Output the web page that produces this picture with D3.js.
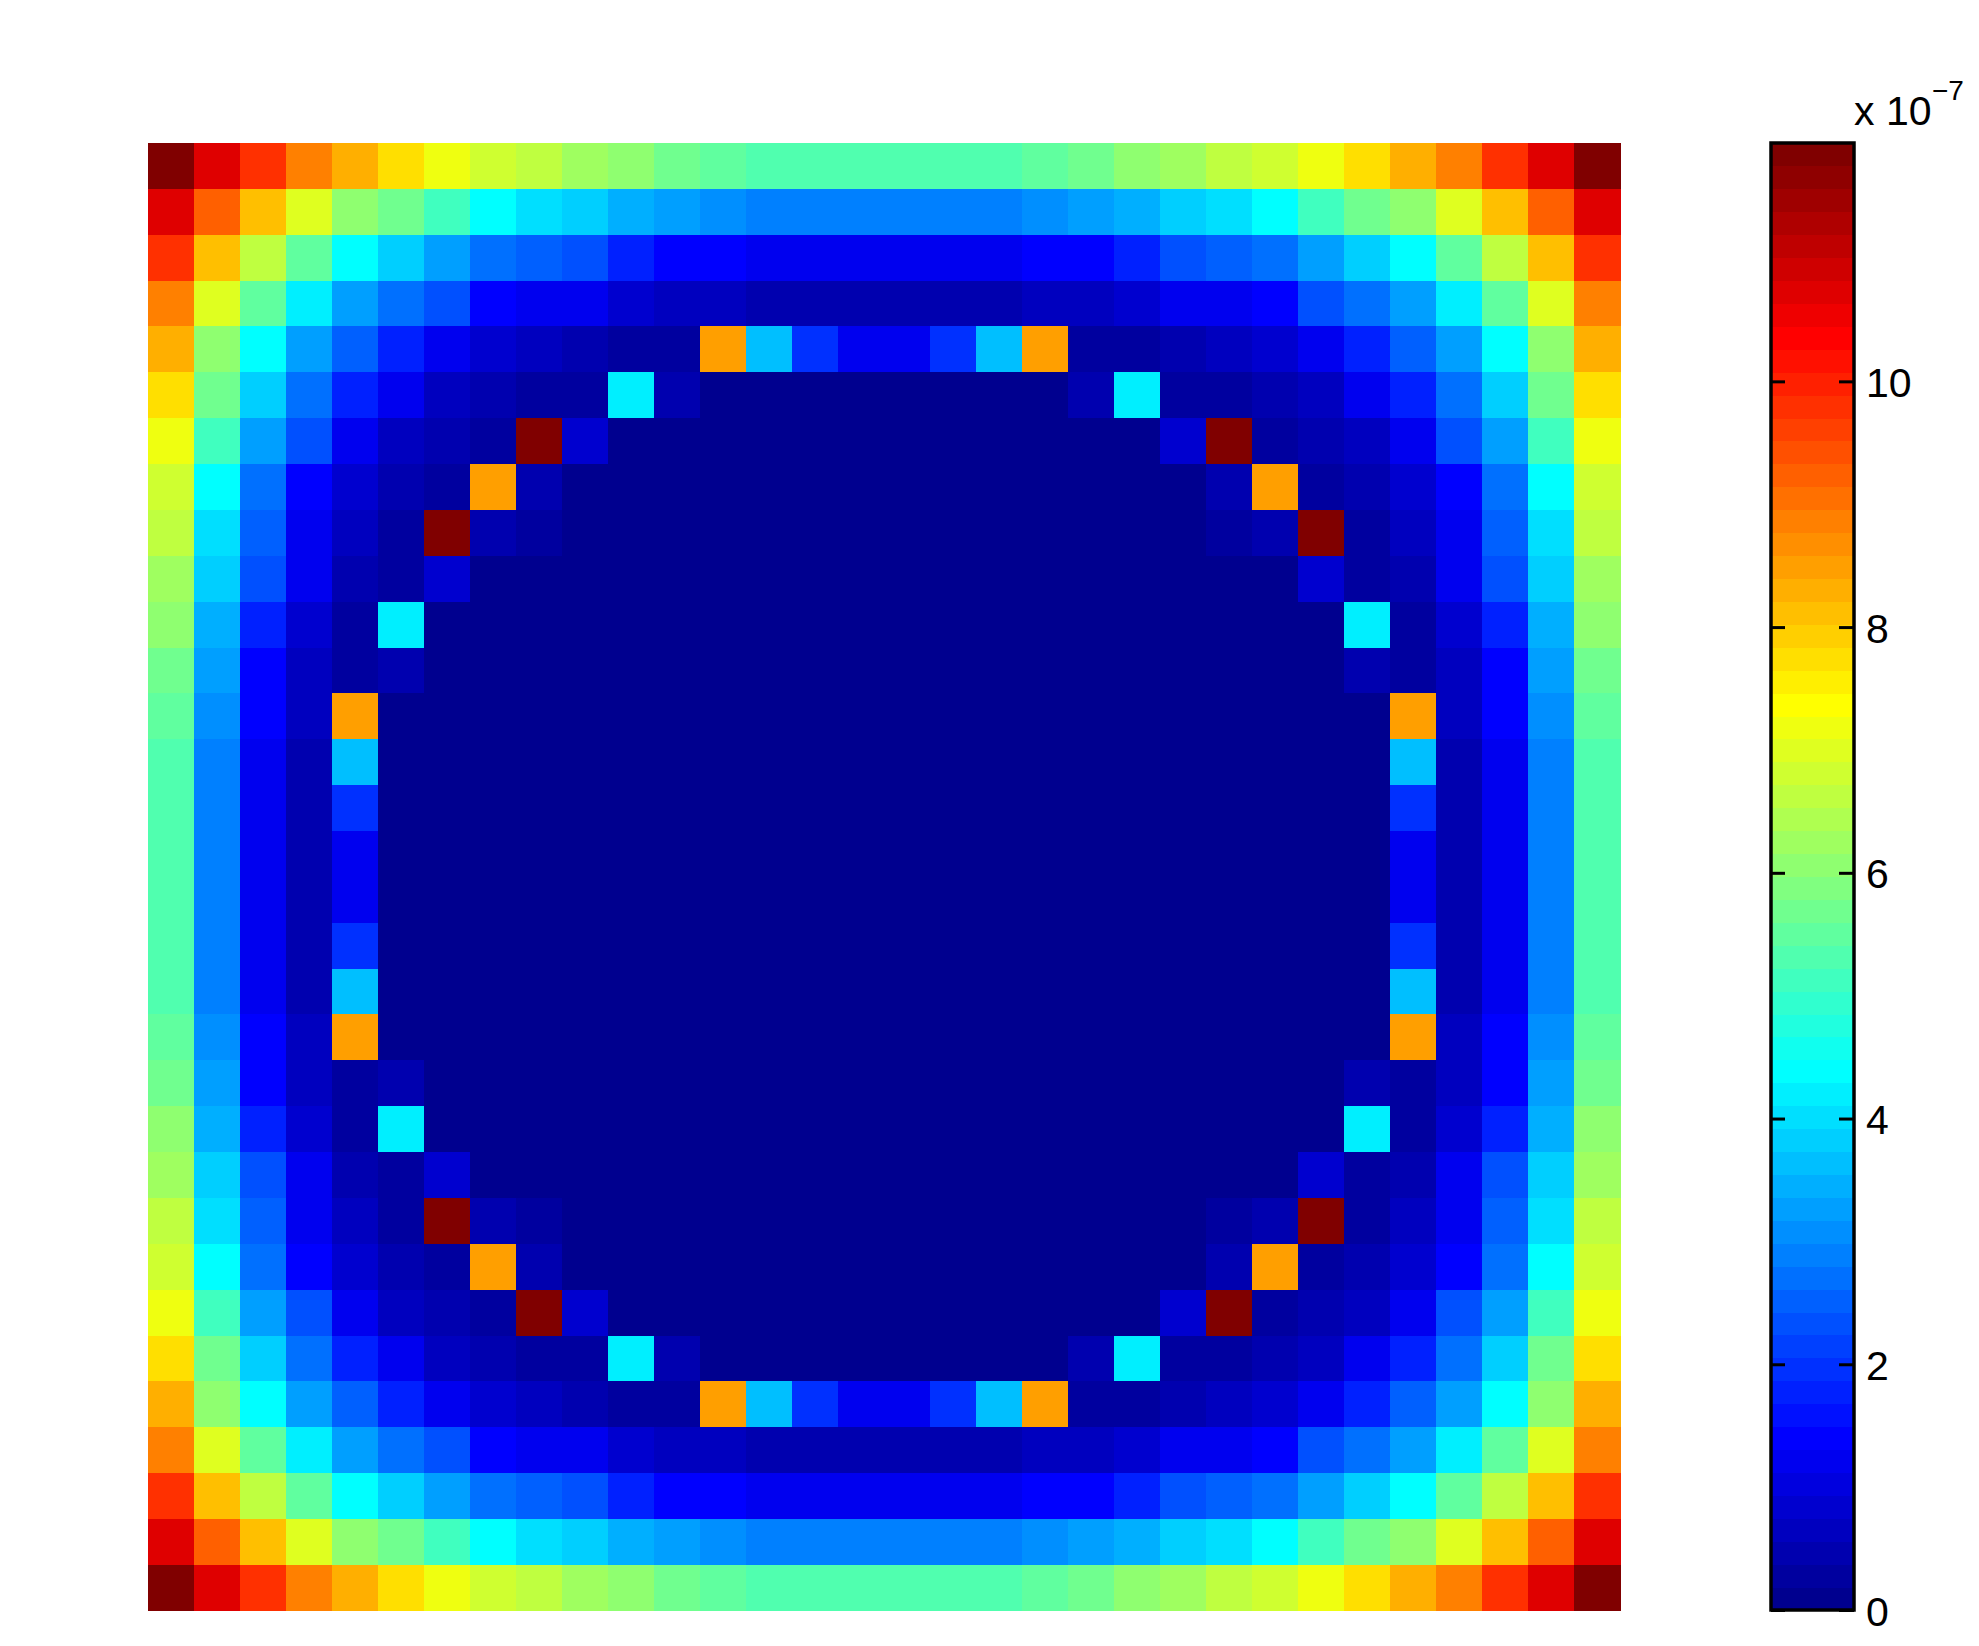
<!DOCTYPE html>
<html>
<head>
<meta charset="utf-8">
<title>Field magnitude</title>
<script src="https://cdn.jsdelivr.net/npm/d3@7/dist/d3.min.js"></script>
<style>
    html, body { margin: 0; padding: 0; background: #fff; }
    svg { display: block; }
    text { font-family: "Liberation Sans", Arial, sans-serif; fill: #000; }
</style>
</head>
<body>
<svg id="chart" width="1979" height="1646"></svg>
<script>
// cell values, in units of 1e-7, one list per image row
const fieldRows = [
[11.84,10.72,9.79,8.85,8.30,7.74,7.18,6.80,6.62,6.24,6.06,5.69,5.50,5.31,5.31,5.31,5.31,5.31,5.31,5.50,5.69,6.06,6.24,6.62,6.80,7.18,7.74,8.30,8.85,9.79,10.72,11.84],
[10.72,9.23,8.11,6.99,6.06,5.69,5.13,4.38,4.01,3.82,3.45,3.26,3.08,2.89,2.89,2.89,2.89,2.89,2.89,3.08,3.26,3.45,3.82,4.01,4.38,5.13,5.69,6.06,6.99,8.11,9.23,10.72],
[9.79,8.11,6.62,5.50,4.38,3.82,3.26,2.70,2.52,2.33,1.77,1.40,1.40,1.21,1.21,1.21,1.21,1.21,1.21,1.40,1.40,1.77,2.33,2.52,2.70,3.26,3.82,4.38,5.50,6.62,8.11,9.79],
[8.85,6.99,5.50,4.19,3.26,2.70,2.33,1.40,1.21,1.21,0.84,0.65,0.65,0.47,0.47,0.47,0.47,0.47,0.47,0.65,0.65,0.84,1.21,1.21,1.40,2.33,2.70,3.26,4.19,5.50,6.99,8.85],
[8.30,6.06,4.38,3.26,2.52,1.77,1.21,0.84,0.65,0.47,0.28,0.28,8.48,3.64,1.96,1.21,1.21,1.96,3.64,8.48,0.28,0.28,0.47,0.65,0.84,1.21,1.77,2.52,3.26,4.38,6.06,8.30],
[7.74,5.69,3.82,2.70,1.77,1.21,0.65,0.47,0.28,0.28,4.19,0.47,0.09,0.09,0.09,0.09,0.09,0.09,0.09,0.09,0.47,4.19,0.28,0.28,0.47,0.65,1.21,1.77,2.70,3.82,5.69,7.74],
[7.18,5.13,3.26,2.33,1.21,0.65,0.47,0.28,11.84,0.84,0.09,0.09,0.09,0.09,0.09,0.09,0.09,0.09,0.09,0.09,0.09,0.09,0.84,11.84,0.28,0.47,0.65,1.21,2.33,3.26,5.13,7.18],
[6.80,4.38,2.70,1.40,0.84,0.47,0.28,8.48,0.47,0.09,0.09,0.09,0.09,0.09,0.09,0.09,0.09,0.09,0.09,0.09,0.09,0.09,0.09,0.47,8.48,0.28,0.47,0.84,1.40,2.70,4.38,6.80],
[6.62,4.01,2.52,1.21,0.65,0.28,11.84,0.47,0.28,0.09,0.09,0.09,0.09,0.09,0.09,0.09,0.09,0.09,0.09,0.09,0.09,0.09,0.09,0.28,0.47,11.84,0.28,0.65,1.21,2.52,4.01,6.62],
[6.24,3.82,2.33,1.21,0.47,0.28,0.84,0.09,0.09,0.09,0.09,0.09,0.09,0.09,0.09,0.09,0.09,0.09,0.09,0.09,0.09,0.09,0.09,0.09,0.09,0.84,0.28,0.47,1.21,2.33,3.82,6.24],
[6.06,3.45,1.77,0.84,0.28,4.19,0.09,0.09,0.09,0.09,0.09,0.09,0.09,0.09,0.09,0.09,0.09,0.09,0.09,0.09,0.09,0.09,0.09,0.09,0.09,0.09,4.19,0.28,0.84,1.77,3.45,6.06],
[5.69,3.26,1.40,0.65,0.28,0.47,0.09,0.09,0.09,0.09,0.09,0.09,0.09,0.09,0.09,0.09,0.09,0.09,0.09,0.09,0.09,0.09,0.09,0.09,0.09,0.09,0.47,0.28,0.65,1.40,3.26,5.69],
[5.50,3.08,1.40,0.65,8.48,0.09,0.09,0.09,0.09,0.09,0.09,0.09,0.09,0.09,0.09,0.09,0.09,0.09,0.09,0.09,0.09,0.09,0.09,0.09,0.09,0.09,0.09,8.48,0.65,1.40,3.08,5.50],
[5.31,2.89,1.21,0.47,3.64,0.09,0.09,0.09,0.09,0.09,0.09,0.09,0.09,0.09,0.09,0.09,0.09,0.09,0.09,0.09,0.09,0.09,0.09,0.09,0.09,0.09,0.09,3.64,0.47,1.21,2.89,5.31],
[5.31,2.89,1.21,0.47,1.96,0.09,0.09,0.09,0.09,0.09,0.09,0.09,0.09,0.09,0.09,0.09,0.09,0.09,0.09,0.09,0.09,0.09,0.09,0.09,0.09,0.09,0.09,1.96,0.47,1.21,2.89,5.31],
[5.31,2.89,1.21,0.47,1.21,0.09,0.09,0.09,0.09,0.09,0.09,0.09,0.09,0.09,0.09,0.09,0.09,0.09,0.09,0.09,0.09,0.09,0.09,0.09,0.09,0.09,0.09,1.21,0.47,1.21,2.89,5.31],
[5.31,2.89,1.21,0.47,1.21,0.09,0.09,0.09,0.09,0.09,0.09,0.09,0.09,0.09,0.09,0.09,0.09,0.09,0.09,0.09,0.09,0.09,0.09,0.09,0.09,0.09,0.09,1.21,0.47,1.21,2.89,5.31],
[5.31,2.89,1.21,0.47,1.96,0.09,0.09,0.09,0.09,0.09,0.09,0.09,0.09,0.09,0.09,0.09,0.09,0.09,0.09,0.09,0.09,0.09,0.09,0.09,0.09,0.09,0.09,1.96,0.47,1.21,2.89,5.31],
[5.31,2.89,1.21,0.47,3.64,0.09,0.09,0.09,0.09,0.09,0.09,0.09,0.09,0.09,0.09,0.09,0.09,0.09,0.09,0.09,0.09,0.09,0.09,0.09,0.09,0.09,0.09,3.64,0.47,1.21,2.89,5.31],
[5.50,3.08,1.40,0.65,8.48,0.09,0.09,0.09,0.09,0.09,0.09,0.09,0.09,0.09,0.09,0.09,0.09,0.09,0.09,0.09,0.09,0.09,0.09,0.09,0.09,0.09,0.09,8.48,0.65,1.40,3.08,5.50],
[5.69,3.26,1.40,0.65,0.28,0.47,0.09,0.09,0.09,0.09,0.09,0.09,0.09,0.09,0.09,0.09,0.09,0.09,0.09,0.09,0.09,0.09,0.09,0.09,0.09,0.09,0.47,0.28,0.65,1.40,3.26,5.69],
[6.06,3.45,1.77,0.84,0.28,4.19,0.09,0.09,0.09,0.09,0.09,0.09,0.09,0.09,0.09,0.09,0.09,0.09,0.09,0.09,0.09,0.09,0.09,0.09,0.09,0.09,4.19,0.28,0.84,1.77,3.45,6.06],
[6.24,3.82,2.33,1.21,0.47,0.28,0.84,0.09,0.09,0.09,0.09,0.09,0.09,0.09,0.09,0.09,0.09,0.09,0.09,0.09,0.09,0.09,0.09,0.09,0.09,0.84,0.28,0.47,1.21,2.33,3.82,6.24],
[6.62,4.01,2.52,1.21,0.65,0.28,11.84,0.47,0.28,0.09,0.09,0.09,0.09,0.09,0.09,0.09,0.09,0.09,0.09,0.09,0.09,0.09,0.09,0.28,0.47,11.84,0.28,0.65,1.21,2.52,4.01,6.62],
[6.80,4.38,2.70,1.40,0.84,0.47,0.28,8.48,0.47,0.09,0.09,0.09,0.09,0.09,0.09,0.09,0.09,0.09,0.09,0.09,0.09,0.09,0.09,0.47,8.48,0.28,0.47,0.84,1.40,2.70,4.38,6.80],
[7.18,5.13,3.26,2.33,1.21,0.65,0.47,0.28,11.84,0.84,0.09,0.09,0.09,0.09,0.09,0.09,0.09,0.09,0.09,0.09,0.09,0.09,0.84,11.84,0.28,0.47,0.65,1.21,2.33,3.26,5.13,7.18],
[7.74,5.69,3.82,2.70,1.77,1.21,0.65,0.47,0.28,0.28,4.19,0.47,0.09,0.09,0.09,0.09,0.09,0.09,0.09,0.09,0.47,4.19,0.28,0.28,0.47,0.65,1.21,1.77,2.70,3.82,5.69,7.74],
[8.30,6.06,4.38,3.26,2.52,1.77,1.21,0.84,0.65,0.47,0.28,0.28,8.48,3.64,1.96,1.21,1.21,1.96,3.64,8.48,0.28,0.28,0.47,0.65,0.84,1.21,1.77,2.52,3.26,4.38,6.06,8.30],
[8.85,6.99,5.50,4.19,3.26,2.70,2.33,1.40,1.21,1.21,0.84,0.65,0.65,0.47,0.47,0.47,0.47,0.47,0.47,0.65,0.65,0.84,1.21,1.21,1.40,2.33,2.70,3.26,4.19,5.50,6.99,8.85],
[9.79,8.11,6.62,5.50,4.38,3.82,3.26,2.70,2.52,2.33,1.77,1.40,1.40,1.21,1.21,1.21,1.21,1.21,1.21,1.40,1.40,1.77,2.33,2.52,2.70,3.26,3.82,4.38,5.50,6.62,8.11,9.79],
[10.72,9.23,8.11,6.99,6.06,5.69,5.13,4.38,4.01,3.82,3.45,3.26,3.08,2.89,2.89,2.89,2.89,2.89,2.89,3.08,3.26,3.45,3.82,4.01,4.38,5.13,5.69,6.06,6.99,8.11,9.23,10.72],
[11.84,10.72,9.79,8.85,8.30,7.74,7.18,6.80,6.62,6.24,6.06,5.69,5.50,5.31,5.31,5.31,5.31,5.31,5.31,5.50,5.69,6.06,6.24,6.62,6.80,7.18,7.74,8.30,8.85,9.79,10.72,11.84]
];

const colorMax = 11.94;                    // top of the colour bar
const colorbarTicks = [0, 2, 4, 6, 8, 10];
const levelCount = 64;                     // matlab default colormap size

// matlab jet, 64 steps
function jetColor(i) {
    let t = (i + 1) / levelCount;
    let ch = v => Math.round(255 * Math.max(0, Math.min(1, v)));
    let r = ch(Math.min(4 * t - 1.5, -4 * t + 4.5));
    let g = ch(Math.min(4 * t - 0.5, -4 * t + 3.5));
    let b = ch(Math.min(4 * t + 0.5, -4 * t + 2.5));
    return d3.rgb(r, g, b).formatHex();
}
const jetColors = d3.range(levelCount).map(jetColor);

let svg = d3.select("#chart");

// scales
let scaleX = d3.scaleBand().domain(d3.range(fieldRows[0].length)).range([148, 1620]);
let scaleY = d3.scaleBand().domain(d3.range(fieldRows.length)).range([143, 1610.7]);
let scaleColor = d3.scaleQuantize().domain([0, colorMax]).range(jetColors);
let scaleBar = d3.scaleLinear().domain([0, colorMax]).range([1610, 143]);

// heat map cells
let cells = [];
fieldRows.forEach((row, r) => row.forEach((v, c) => cells.push({r: r, c: c, v: v})));

svg.append("g")
    .attr("shape-rendering", "crispEdges")
    .selectAll("rect")
    .data(cells).enter()
    .append("rect")
    .attr("x", d => scaleX(d.c))
    .attr("y", d => scaleY(d.r))
    .attr("width", scaleX.bandwidth() + 0.5)
    .attr("height", scaleY.bandwidth() + 0.5)
    .attr("fill", d => scaleColor(d.v));

// colour bar
const barLeft = 1771, barRight = 1854;
let levelStep = colorMax / levelCount;

svg.append("g")
    .attr("shape-rendering", "crispEdges")
    .selectAll("rect")
    .data(jetColors).enter()
    .append("rect")
    .attr("x", barLeft)
    .attr("width", barRight - barLeft)
    .attr("y", (d, i) => scaleBar((i + 1) * levelStep))
    .attr("height", (d, i) => scaleBar(i * levelStep) - scaleBar((i + 1) * levelStep) + 0.5)
    .attr("fill", d => d);

// inward ticks on both sides, labels on the right
let tickLeft = d3.axisRight(scaleBar).tickValues(colorbarTicks).tickSize(14).tickFormat("");
let tickRight = d3.axisLeft(scaleBar).tickValues(colorbarTicks).tickSize(15).tickFormat("");
let tickLabels = d3.axisRight(scaleBar).tickValues(colorbarTicks).tickSize(0).tickPadding(12).tickFormat(d3.format("d"));

let axes = [
    svg.append("g").attr("transform", "translate(" + barLeft + ",0)").call(tickLeft),
    svg.append("g").attr("transform", "translate(" + barRight + ",0)").call(tickRight),
    svg.append("g").attr("transform", "translate(" + barRight + ",2)").call(tickLabels)
];
axes.forEach(a => {
    a.select(".domain").remove();
    a.selectAll("line").attr("stroke", "#000").attr("stroke-width", 3);
    a.selectAll("text").attr("font-size", 41).attr("font-family", null);
});

svg.append("rect")
    .attr("x", barLeft)
    .attr("y", scaleBar(colorMax))
    .attr("width", barRight - barLeft)
    .attr("height", scaleBar(0) - scaleBar(colorMax))
    .attr("fill", "none")
    .attr("stroke", "#000")
    .attr("stroke-width", 3.5);

// scale factor above the bar
svg.append("text").attr("x", 1854).attr("y", 125).attr("font-size", 41).text("x 10");
svg.append("text").attr("x", 1932).attr("y", 100).attr("font-size", 28).text("\u22127");
</script>
</body>
</html>
